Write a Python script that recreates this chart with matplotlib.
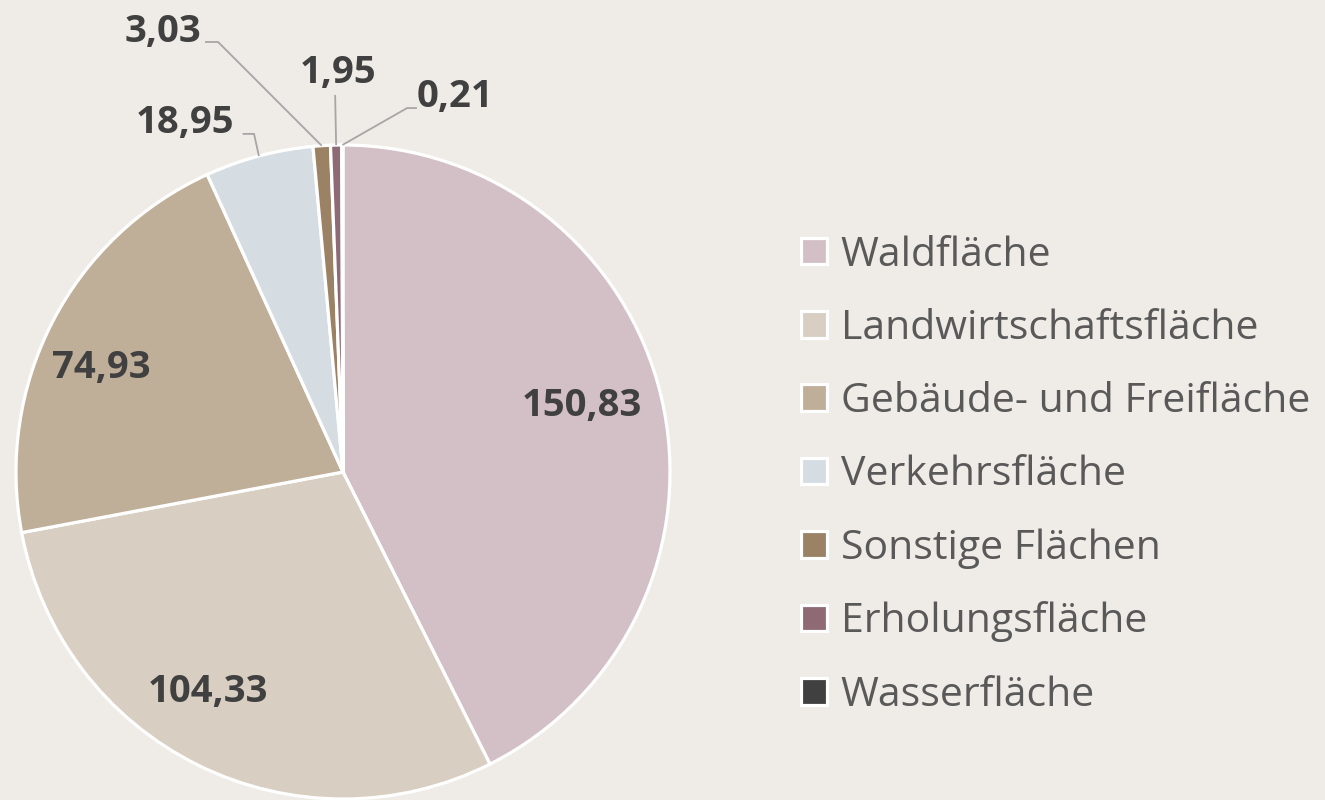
import numpy as np
import matplotlib
matplotlib.use("Agg")
from matplotlib import pyplot as plt

categories = ["Waldfläche", "Landwirtschaftsfläche", "Gebäude- und Freifläche",
              "Verkehrsfläche", "Sonstige Flächen", "Erholungsfläche", "Wasserfläche"]
values = [150.83, 104.33, 74.93, 18.95, 3.03, 1.95, 0.21]
labels = ["150,83", "104,33", "74,93", "18,95", "3,03", "1,95", "0,21"]
colors = ["#D3C0C7", "#D8CEC1", "#BFAE98", "#D5DDE3", "#9B8264", "#8E6A74", "#404040"]

BG = "#EFECE7"
TXT = "#404040"
LEG_TXT = "#595959"
LINE = "#A6A6A6"

# label placement (data coords, pie radius = 1)
inside = {0: (0.731, 0.202), 1: (-0.413, -0.673), 2: (-0.739, 0.317)}
outside = {
    3: dict(text=(-0.483, 1.067), path=[(-0.307, 1.034), (-0.272, 1.034)]),
    4: dict(text=(-0.550, 1.346), path=[(-0.422, 1.315), (-0.382, 1.315)]),
    5: dict(text=(-0.015, 1.220), path=[(-0.024, 1.153)]),
    6: dict(text=(0.343, 1.147), path=[(0.226, 1.113), (0.196, 1.113)]),
}

plt.rcParams['font.family'] = ['Open Sans', 'DejaVu Sans']

fig = plt.figure(figsize=(13.25, 8), dpi=100, facecolor=BG)
ax = fig.add_axes([16 / 1325, 1 / 800, 654 / 1325, 654 / 800])
ax.set_facecolor(BG)

wedges, _ = ax.pie(values, colors=colors, startangle=90, counterclock=False,
                   radius=1.0, wedgeprops=dict(edgecolor="white", linewidth=2.3))
ax.set_xlim(-1, 1)
ax.set_ylim(-1, 1)
ax.set_aspect("equal")
ax.axis("off")

for i, w in enumerate(wedges):
    mid = np.deg2rad((w.theta1 + w.theta2) / 2)
    if i in outside:
        o = outside[i]
        ex, ey = np.cos(mid), np.sin(mid)
        pts = o["path"] + [(ex, ey)]
        ax.plot([p[0] for p in pts], [p[1] for p in pts], color=LINE, lw=1.3,
                clip_on=False, solid_capstyle="butt")
        ax.text(o["text"][0], o["text"][1], labels[i], ha="center", va="center",
                fontsize=27.5, fontweight="bold", color=TXT, clip_on=False)
    else:
        x, y = inside[i]
        ax.text(x, y, labels[i], ha="center", va="center",
                fontsize=27.5, fontweight="bold", color=TXT)

leg = fig.legend(wedges, categories, loc="upper left", bbox_to_anchor=(801 / 1325, 1 - 235 / 800),
                 frameon=False, fontsize=29.5, handlelength=0.63, handleheight=0.63,
                 handletextpad=0.34, labelspacing=0.80, borderaxespad=0, borderpad=0)
for t in leg.get_texts():
    t.set_color(LEG_TXT)

fig.savefig("out.png", dpi=100, facecolor=BG)
